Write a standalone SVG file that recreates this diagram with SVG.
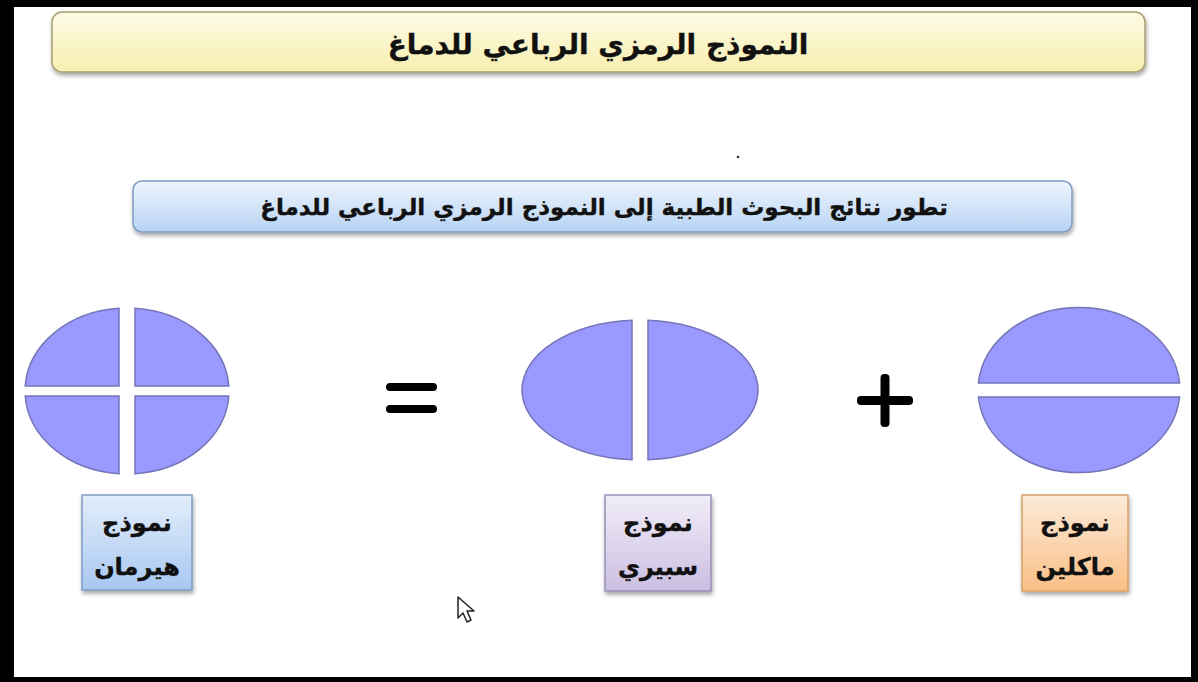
<svg xmlns="http://www.w3.org/2000/svg" width="1198" height="682" viewBox="0 0 1198 682">
<defs>
<linearGradient id="gTitle" x1="0" y1="0" x2="0" y2="1"><stop offset="0" stop-color="#fdfbe6"/><stop offset="1" stop-color="#f7efb0"/></linearGradient>
<linearGradient id="gSub" x1="0" y1="0" x2="0" y2="1"><stop offset="0" stop-color="#eef5fd"/><stop offset="1" stop-color="#b7d3f3"/></linearGradient>
<linearGradient id="gBlue" x1="0" y1="0" x2="0" y2="1"><stop offset="0" stop-color="#e3eefc"/><stop offset="1" stop-color="#a8c7f0"/></linearGradient>
<linearGradient id="gLav" x1="0" y1="0" x2="0" y2="1"><stop offset="0" stop-color="#f1edf8"/><stop offset="1" stop-color="#cbbfe2"/></linearGradient>
<linearGradient id="gPeach" x1="0" y1="0" x2="0" y2="1"><stop offset="0" stop-color="#fdebd9"/><stop offset="1" stop-color="#f9bf86"/></linearGradient>
<filter id="sh" x="-10%" y="-10%" width="120%" height="130%"><feDropShadow dx="1" dy="3" stdDeviation="2" flood-color="#000" flood-opacity="0.35"/></filter>
</defs>
<style>
.lobe{fill:#9999ff;stroke:#7474b8;stroke-width:1.5}
.t{font-family:"DejaVu Sans",sans-serif;font-weight:bold;fill:#111;text-anchor:middle;stroke:#111;stroke-width:0.4}
.lbl{font-size:24px}
.op{fill:#000}
</style>
<rect x="0" y="0" width="1198" height="682" fill="#fff"/>
<g id="frame" fill="#000">
<rect x="0" y="0" width="14" height="682"/>
<rect x="0" y="0" width="1198" height="7"/>
<rect x="1191" y="0" width="7" height="682"/>
<rect x="0" y="677" width="1198" height="5"/>
</g>
<g id="title">
<rect x="52" y="12" width="1093" height="60" rx="10" fill="url(#gTitle)" stroke="#a89e70" stroke-width="1.5" filter="url(#sh)"/>
<text class="t" x="598" y="54" font-size="28">النموذج الرمزي الرباعي للدماغ</text>
</g>
<g id="subtitle">
<rect x="133" y="181" width="939" height="51" rx="9" fill="url(#gSub)" stroke="#7f9cc4" stroke-width="1.5" filter="url(#sh)"/>
<text class="t" x="604" y="215" font-size="23">تطور نتائج البحوث الطبية إلى النموذج الرمزي الرباعي للدماغ</text>
</g>
<circle cx="738" cy="157" r="1.3" fill="#333"/>
<g id="hermann-brain">
<path class="lobe" d="M135,308.3 A102,83 0 0 1 228.8,386 L135,386 Z"/>
<path class="lobe" d="M25.2,386 A102,83 0 0 1 119,308.3 L119,386 Z"/>
<path class="lobe" d="M119,473.7 A102,83 0 0 1 25.2,396 L119,396 Z"/>
<path class="lobe" d="M228.8,396 A102,83 0 0 1 135,473.7 L135,396 Z"/>
</g>
<g id="equals" class="op">
<rect x="386" y="383" width="51" height="8" rx="4"/>
<rect x="386" y="405" width="51" height="8" rx="4"/>
</g>
<g id="sperry-brain">
<path class="lobe" d="M632,459.8 A119,70 0 0 1 632,320.2 Z"/>
<path class="lobe" d="M648,320.2 A119,70 0 0 1 648,459.8 Z"/>
</g>
<g id="plus" class="op">
<rect x="857" y="396" width="56" height="9" rx="4"/>
<rect x="880.5" y="374" width="9" height="53" rx="4"/>
</g>
<g id="maclean-brain">
<path class="lobe" d="M978.4,383 A101,83 0 0 1 1179.6,383 Z"/>
<path class="lobe" d="M1179.6,397 A101,83 0 0 1 978.4,397 Z"/>
</g>
<g id="hermann-label">
<rect x="82" y="495" width="110" height="95" fill="url(#gBlue)" stroke="#7c9bc6" stroke-width="1.5" filter="url(#sh)"/>
<text class="t lbl" x="137" y="531">نموذج</text>
<text class="t lbl" x="137" y="575">هيرمان</text>
</g>
<g id="sperry-label">
<rect x="605" y="495" width="106" height="96" fill="url(#gLav)" stroke="#9a8fb6" stroke-width="1.5" filter="url(#sh)"/>
<text class="t lbl" x="658" y="531">نموذج</text>
<text class="t lbl" x="658" y="575">سبيري</text>
</g>
<g id="maclean-label">
<rect x="1022" y="495" width="106" height="96" fill="url(#gPeach)" stroke="#d7a168" stroke-width="1.5" filter="url(#sh)"/>
<text class="t lbl" x="1075" y="531">نموذج</text>
<text class="t lbl" x="1075" y="575">ماكلين</text>
</g>
<path id="cursor" d="M458,597 L458,618 L463,613 L467,622 L471,620 L467,611 L474,611 Z" fill="#fff" stroke="#222" stroke-width="1.5" stroke-linejoin="round"/>
</svg>
